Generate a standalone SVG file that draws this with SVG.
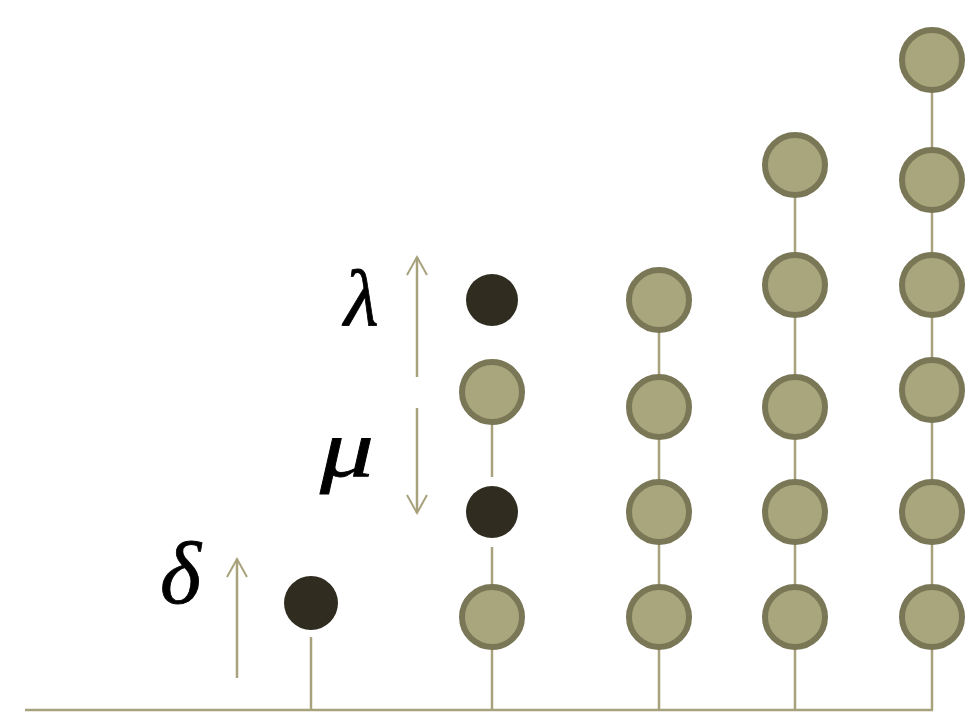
<svg xmlns="http://www.w3.org/2000/svg" width="973" height="713" viewBox="0 0 973 713">
<defs>
<style>
.ln{stroke:#A8A27C;stroke-width:2.5;fill:none}
.tan{fill:#A9A57C;stroke:#7A7757;stroke-width:6}
.dark{fill:#302C20}
.lbl{font-family:"Liberation Serif",serif;font-style:italic;fill:#000;stroke:#000;stroke-width:0.8}
</style>
<marker id="ah" viewBox="0 0 24 24" refX="21" refY="12" markerWidth="24" markerHeight="24" markerUnits="userSpaceOnUse" orient="auto">
<path d="M3,2 L21,12 L3,22" fill="none" stroke="#A8A27C" stroke-width="2"/>
</marker>
</defs>
<rect width="973" height="713" fill="#fff"/>
<g id="connectors">
<line class="ln" x1="25" y1="710" x2="933" y2="710"/>
<line class="ln" x1="311" y1="637" x2="311" y2="710"/>
<line class="ln" x1="492" y1="424" x2="492" y2="477"/>
<line class="ln" x1="492" y1="547" x2="492" y2="586"/>
<line class="ln" x1="492" y1="648" x2="492" y2="710"/>
<line class="ln" x1="659" y1="300" x2="659" y2="710"/>
<line class="ln" x1="795" y1="165" x2="795" y2="710"/>
<line class="ln" x1="932" y1="60" x2="932" y2="710"/>
<line class="ln" x1="237" y1="678" x2="237" y2="559" marker-end="url(#ah)"/>
<line class="ln" x1="417" y1="377" x2="417" y2="257" marker-end="url(#ah)"/>
<line class="ln" x1="417" y1="408" x2="417" y2="513" marker-end="url(#ah)"/>
</g>
<g id="labels">
<text class="lbl" x="160" y="603" font-size="88">δ</text>
<text class="lbl" x="344" y="325" font-size="80">λ</text>
<text class="lbl" x="320" y="476" font-size="82" textLength="54" lengthAdjust="spacingAndGlyphs">μ</text>
</g>
<g id="n1"><circle class="dark" cx="311" cy="603" r="27"/></g>
<g id="n2a"><circle class="dark" cx="492" cy="300" r="26"/></g>
<g id="n2b"><circle class="tan" cx="492" cy="392" r="30"/></g>
<g id="n2c"><circle class="dark" cx="492" cy="512" r="26"/></g>
<g id="n2d"><circle class="tan" cx="492" cy="617" r="30"/></g>
<g id="n3a"><circle class="tan" cx="659" cy="300" r="30"/></g>
<g id="n3b"><circle class="tan" cx="659" cy="407" r="30"/></g>
<g id="n3c"><circle class="tan" cx="659" cy="512" r="30"/></g>
<g id="n3d"><circle class="tan" cx="659" cy="617" r="30"/></g>
<g id="n4a"><circle class="tan" cx="795" cy="165" r="30"/></g>
<g id="n4b"><circle class="tan" cx="795" cy="285" r="30"/></g>
<g id="n4c"><circle class="tan" cx="795" cy="407" r="30"/></g>
<g id="n4d"><circle class="tan" cx="795" cy="512" r="30"/></g>
<g id="n4e"><circle class="tan" cx="795" cy="617" r="30"/></g>
<g id="n5a"><circle class="tan" cx="932" cy="60" r="30"/></g>
<g id="n5b"><circle class="tan" cx="932" cy="180" r="30"/></g>
<g id="n5c"><circle class="tan" cx="932" cy="285" r="30"/></g>
<g id="n5d"><circle class="tan" cx="932" cy="390" r="30"/></g>
<g id="n5e"><circle class="tan" cx="932" cy="512" r="30"/></g>
<g id="n5f"><circle class="tan" cx="932" cy="617" r="30"/></g>
</svg>
